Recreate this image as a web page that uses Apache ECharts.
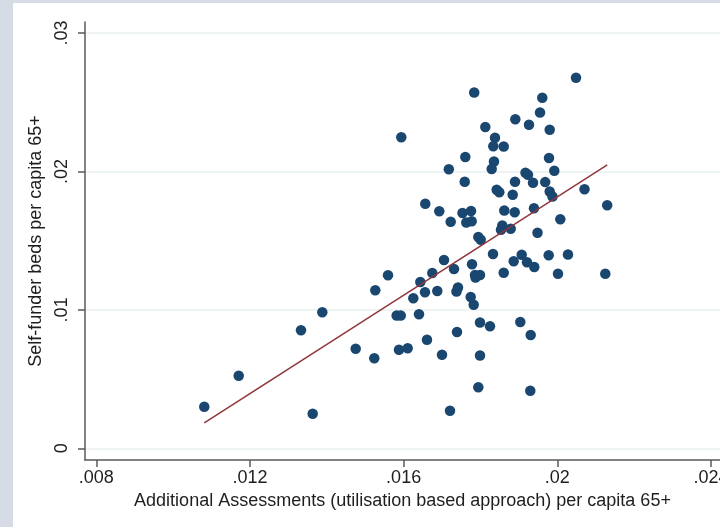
<!DOCTYPE html>
<html><head><meta charset="utf-8">
<script src="https://cdn.jsdelivr.net/npm/echarts@6/dist/echarts.min.js"></script>
<style>html,body{margin:0;padding:0;background:#fff}#c{width:720px;height:527px}</style>
</head><body><div id="c"></div>
<script>
const xValues = [
  0.010811, 0.011707, 0.013328, 0.013883, 0.013633, 0.014752, 0.015236, 0.015262, 0.015593, 0.015819,
  0.015924, 0.015879, 0.016106, 0.016252, 0.016400, 0.016434, 0.016556, 0.016608, 0.016746, 0.016876,
  0.016999, 0.017051, 0.017207, 0.017311, 0.017376, 0.017415, 0.017389, 0.017746, 0.017780, 0.017824,
  0.017858, 0.017988, 0.017871, 0.017944, 0.018006, 0.017988, 0.018248, 0.017988, 0.017944, 0.018326,
  0.018605, 0.018865, 0.019073, 0.019211, 0.019401, 0.019776, 0.020278, 0.020018, 0.021249, 0.019037,
  0.019307, 0.019297, 0.015939, 0.017837, 0.020487, 0.019609, 0.019550, 0.018907, 0.019263, 0.018126,
  0.019802, 0.018378, 0.018334, 0.018605, 0.017605, 0.019784, 0.018352, 0.018292, 0.017176, 0.019922,
  0.019172, 0.019237, 0.017590, 0.018899, 0.019368, 0.019685, 0.018422, 0.018490, 0.018839, 0.019802,
  0.019875, 0.020708, 0.016564, 0.016928, 0.017532, 0.017754, 0.017631, 0.017772, 0.017225, 0.018620,
  0.018891, 0.019393, 0.021299, 0.020078, 0.018568, 0.018534, 0.018787, 0.019485
];
const yValues = [
  0.003005, 0.005245, 0.008524, 0.009824, 0.002499, 0.007195, 0.006502, 0.011414, 0.012497, 0.009593,
  0.009593, 0.007123, 0.007224, 0.010836, 0.009680, 0.012013, 0.011269, 0.007845, 0.012664, 0.011363,
  0.006762, 0.013603, 0.002716, 0.012953, 0.011327, 0.011616, 0.008401, 0.010930, 0.013292, 0.010373,
  0.012519, 0.012519, 0.012338, 0.015264, 0.015069, 0.009088, 0.008813, 0.006704, 0.004407, 0.014036,
  0.012685, 0.013509, 0.013985, 0.013437, 0.013097, 0.013942, 0.014000, 0.012613, 0.012613, 0.009124,
  0.008185, 0.004161, 0.022473, 0.025703, 0.026771, 0.025327, 0.024258, 0.023774, 0.023369, 0.023210,
  0.023008, 0.022430, 0.021823, 0.021802, 0.021043, 0.020971, 0.020718, 0.020176, 0.020155, 0.020046,
  0.019909, 0.019764, 0.019259, 0.019252, 0.019187, 0.019230, 0.018674, 0.018493, 0.018320, 0.018551,
  0.018190, 0.018710, 0.017662, 0.017128, 0.016998, 0.017142, 0.016311, 0.016398, 0.016369, 0.017178,
  0.017056, 0.017337, 0.017554, 0.016543, 0.016095, 0.015791, 0.015864, 0.015567
];
const fitX = [0.01081, 0.02130];
const fitY = [0.00183, 0.02047];
const xTickValues = [0.008, 0.012, 0.016, 0.02, 0.024];
const xTickLabels = ['.008', '.012', '.016', '.02', '.024'];
const yTickValues = [0, 0.01, 0.02, 0.03];
const yTickLabels = ['0', '.01', '.02', '.03'];
const xTitle = 'Additional Assessments (utilisation based approach) per capita 65+';
const yTitle = 'Self-funder beds per capita 65+';

const FONT = '"Liberation Sans", Arial, Helvetica, sans-serif';
const AXIS_COLOR = '#5a5a5a';
const TEXT_COLOR = '#1e1e1e';
function labeler(vals, labels) {
  return function (v) {
    for (let i = 0; i < vals.length; i++) if (Math.abs(v - vals[i]) < 1e-9) return labels[i];
    return '';
  };
}
const chart = echarts.init(document.getElementById('c'), null, {renderer: 'canvas', width: 720, height: 527});
chart.setOption({
  animation: false,
  backgroundColor: '#d5dce6',
  graphic: [{type: 'rect', z: -10, silent: true, shape: {x: 13, y: 3, width: 707, height: 524}, style: {fill: '#ffffff'}}],
  grid: {left: 85, right: 0, top: 22, bottom: 67, containLabel: false, outerBoundsMode: 'none'},
  xAxis: {
    type: 'value', min: 0.007706, max: 0.024235,
    axisLine: {show: true, onZero: false, lineStyle: {color: AXIS_COLOR, width: 1.5}},
    axisTick: {show: true, customValues: xTickValues, length: 7, lineStyle: {color: AXIS_COLOR, width: 1.5}},
    axisLabel: {customValues: xTickValues, formatter: labeler(xTickValues, xTickLabels), margin: 9,
      color: TEXT_COLOR, fontSize: 18, fontFamily: FONT, hideOverlap: false},
    splitLine: {show: false},
    name: xTitle, nameLocation: 'middle', nameGap: 31,
    nameTextStyle: {color: TEXT_COLOR, fontSize: 18, fontFamily: FONT}
  },
  yAxis: {
    type: 'value', min: -0.000845, max: 0.030795,
    axisLine: {show: true, onZero: false, lineStyle: {color: AXIS_COLOR, width: 1.5}},
    axisTick: {show: true, customValues: yTickValues, length: 7, lineStyle: {color: AXIS_COLOR, width: 1.5}},
    axisLabel: {customValues: yTickValues, formatter: labeler(yTickValues, yTickLabels), margin: 14, rotate: 90,
      color: TEXT_COLOR, fontSize: 18, fontFamily: FONT},
    splitLine: {show: true, lineStyle: {color: '#e8eff1', width: 1.5}},
    name: yTitle, nameLocation: 'middle', nameGap: 35, nameRotate: 90,
    nameTextStyle: {color: TEXT_COLOR, fontSize: 18, fontFamily: FONT}
  },
  series: [
    {type: 'scatter', data: xValues.map((x, i) => [x, yValues[i]]), symbol: 'circle', symbolSize: 10.5,
      itemStyle: {color: '#1a476f', opacity: 1}, z: 3, silent: true},
    {type: 'line', data: fitX.map((x, i) => [x, fitY[i]]), showSymbol: false, symbol: 'none',
      lineStyle: {color: '#90353b', width: 1.5}, z: 4, silent: true}
  ]
});
</script></body></html>
